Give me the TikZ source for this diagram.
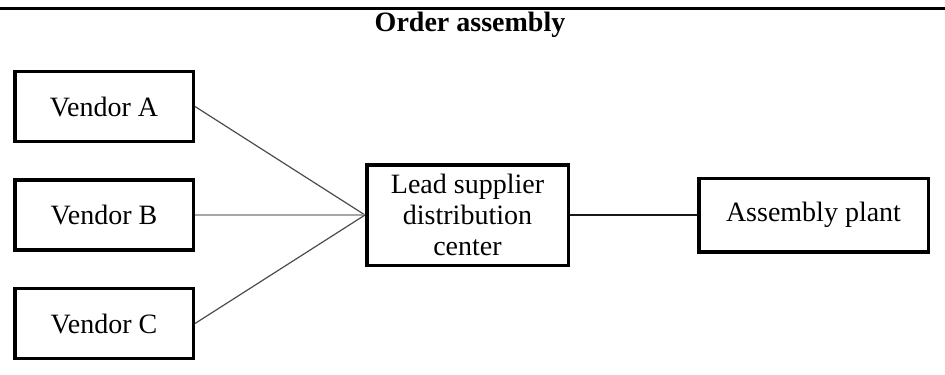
\documentclass[tikz,border=0pt]{standalone}
\usepackage{fontspec}
\setmainfont{Liberation Serif}
\tikzset{
	boxnode/.style={draw, line width=1.75pt, inner sep=0pt, align=center, font=\fontsize{14}{15.5}\selectfont},
	linkline/.style={line width=0.6pt, draw={black!70}}
}
\begin{document}
\begin{tikzpicture}[x=0.5pt,y=0.5pt,yscale=-1,xscale=1]
	\useasboundingbox (0,0) rectangle (945,374);

	%Straight Lines [id:top rule]
	\draw [line width=1.35pt]   (0,8.7) -- (945,8.7) ;

	% Text Node
	\node (title) [anchor=base, inner sep=0pt, font=\fontsize{14}{16}\selectfont\bfseries] at (470,32) {Order assembly};

	%Shape: Rectangle [id:vendors]
	\node (vendA) [boxnode, minimum width=89.25pt, minimum height=35pt] at (104,106.5) {Vendor A};
	\node (vendB) [boxnode, minimum width=89.25pt, minimum height=35pt] at (104,215) {Vendor B};
	\node (vendC) [boxnode, minimum width=89.25pt, minimum height=35pt] at (104,323.5) {Vendor C};
	%Shape: Rectangle [id:lead]
	\node (lead) [boxnode, minimum width=100.75pt, minimum height=50.25pt] at (467.5,215) {Lead supplier\\distribution\\center};
	%Shape: Rectangle [id:plant]
	\node (plant) [boxnode, minimum width=114.75pt, minimum height=36.75pt] at (813.5,215) {Assembly plant};

	%Straight Lines [id:links]
	\draw [linkline]   (vendA.east) -- (lead.west) ;
	\draw [linkline, draw={black!35}, line width=0.8pt]   (vendB.east) -- (lead.west) ;
	\draw [linkline]   (vendC.east) -- (lead.west) ;
	\draw [linkline, draw={black!90}, line width=0.75pt]   (lead.east) -- (plant.west) ;

\end{tikzpicture}
\end{document}
